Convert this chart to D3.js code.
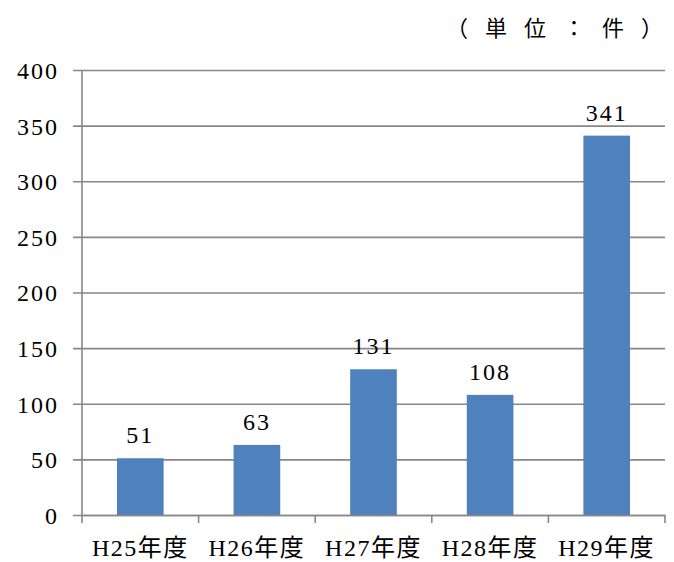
<!DOCTYPE html>
<html><head><meta charset="utf-8">
<script src="https://cdn.jsdelivr.net/npm/d3@7/dist/d3.min.js"></script>
<style>body{margin:0;background:#fff} svg text{font-family:"Liberation Serif","DejaVu Serif","Noto Sans CJK JP",serif;}</style>
</head><body>
<svg id="c" width="674" height="562"></svg>
<script>
const categories = ["H25年度","H26年度","H27年度","H28年度","H29年度"];
const values = [51,63,131,108,341];
const yTicks = [0,50,100,150,200,250,300,350,400];
const unitLabel = "（単位：件）";

(function(){
const svg = d3.select("#c");
const mL = 82, mR = 665, mT = 70, mB = 515;
const x = d3.scaleBand().domain(categories).range([mL,mR]).paddingInner(0.6).paddingOuter(0.3);
const y = d3.scaleLinear().domain([0,400]).range([mB,mT]);
const grid = "#878787";

const ya = svg.append("g").attr("transform",`translate(${mL},0)`)
  .call(d3.axisLeft(y).tickValues(yTicks).tickSize(-(mR-mL)).tickSizeOuter(0).tickPadding(16));
ya.attr("font-family",null);
ya.select(".domain").remove();
ya.selectAll(".tick line").attr("stroke",grid).attr("stroke-width",1.6).attr("x1",-9);
ya.selectAll(".tick text").attr("font-size",24).attr("letter-spacing",2).attr("fill","#000").attr("x",-23).attr("dy","0.35em");
svg.append("line").attr("x1",mL).attr("x2",mL).attr("y1",mT).attr("y2",mB).attr("stroke",grid).attr("stroke-width",1.6);

svg.append("g").selectAll("rect").data(values).join("rect")
  .attr("x",(d,i)=>x(categories[i])).attr("width",x.bandwidth())
  .attr("y",d=>y(d)).attr("height",d=>y(0)-y(d)).attr("fill","#4F81BD");

const xa = svg.append("g").attr("transform",`translate(0,${mB})`)
  .call(d3.axisBottom(x).tickSize(0).tickPadding(24));
xa.attr("font-family",null);
xa.select(".domain").attr("stroke",grid).attr("stroke-width",1.6);
xa.selectAll(".tick text").attr("font-size",24).attr("letter-spacing",1.5).attr("fill","#000");
const step = x.step();
const bounds = d3.range(categories.length+1).map(i=>mL+i*step);
svg.append("g").selectAll("line").data(bounds).join("line")
  .attr("x1",d=>d).attr("x2",d=>d).attr("y1",mB).attr("y2",mB+8)
  .attr("stroke",grid).attr("stroke-width",1.6);

svg.append("g").selectAll("text").data(values).join("text")
  .attr("x",(d,i)=>x(categories[i])+x.bandwidth()/2).attr("y",d=>y(d)-15)
  .attr("text-anchor","middle").attr("font-size",24).attr("letter-spacing",2).text(d=>d);

const chars = Array.from(unitLabel);
svg.append("text").attr("y",36).attr("text-anchor","middle").attr("font-size",22)
  .selectAll("tspan").data(chars).join("tspan")
  .attr("x",(d,i)=>457+i*39).text(d=>d);
})();
</script>
</body></html>
